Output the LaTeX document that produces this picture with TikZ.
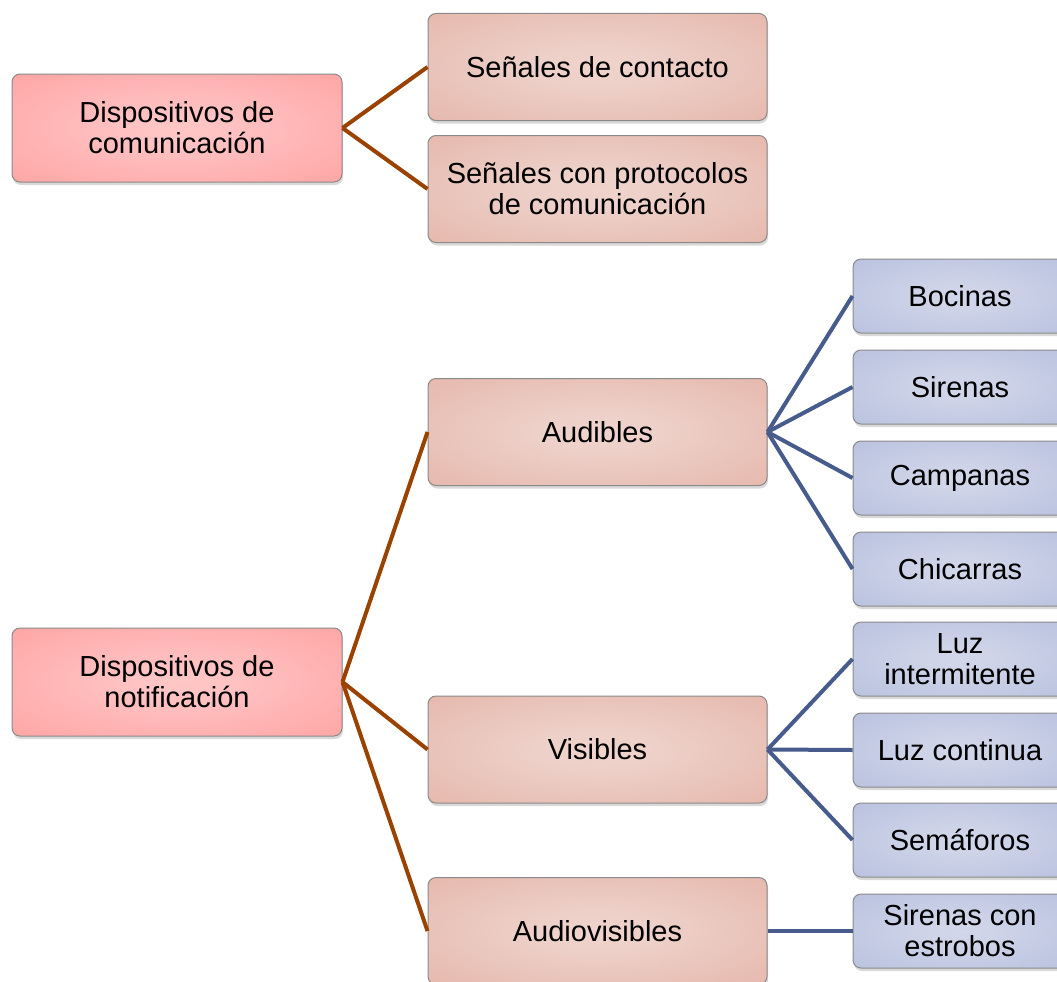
\documentclass[tikz,border=0pt]{standalone}
\usepackage{fontspec}
\setmainfont{Liberation Sans}
\usetikzlibrary{shadows}
\definecolor{brownline}{HTML}{9A4200}
\definecolor{blueline}{HTML}{475B8C}
\definecolor{boxborder}{HTML}{8A8A8A}
\pgfdeclareradialshading{rootshade}{\pgfpoint{0bp}{0bp}}{rgb(0bp)=(1,0.78,0.78); rgb(8bp)=(1,0.76,0.76); rgb(48bp)=(1,0.6,0.6); rgb(80bp)=(1,0.6,0.6)}
\pgfdeclareradialshading{midshade}{\pgfpoint{0bp}{0bp}}{rgb(0bp)=(0.94,0.83,0.80); rgb(8bp)=(0.93,0.82,0.79); rgb(48bp)=(0.89,0.68,0.63); rgb(80bp)=(0.89,0.68,0.63)}
\pgfdeclareradialshading{leafshade}{\pgfpoint{0bp}{0bp}}{rgb(0bp)=(0.82,0.84,0.92); rgb(8bp)=(0.81,0.83,0.91); rgb(48bp)=(0.69,0.73,0.86); rgb(80bp)=(0.69,0.73,0.86)}
\begin{document}
\begin{tikzpicture}[x=1pt,y=-1pt,
  box/.style={draw=boxborder, line width=1pt, rounded corners=8pt, align=center,
    inner sep=0pt, font=\fontsize{29}{31}\selectfont,
    drop shadow={shadow xshift=1pt, shadow yshift=-3pt, opacity=0.3}},
  root/.style={box, shading=rootshade, minimum width=330pt, minimum height=108pt},
  mid/.style={box, shading=midshade, minimum width=339pt, minimum height=107pt},
  leaf/.style={box, shading=leafshade, minimum width=214pt, minimum height=74pt},
  bl/.style={draw=brownline, line width=4pt},
  ul/.style={draw=blueline, line width=4pt}]
\useasboundingbox (0,0) rectangle (1057,982);

\node[root] (dc) at (177,128) {Dispositivos de\\comunicación};
\node[mid] (sc) at (597.5,67) {Señales de contacto};
\node[mid] (sp) at (597.5,189) {Señales con protocolos\\de comunicación};

\node[root] (dn) at (177,682) {Dispositivos de\\notificación};
\node[mid] (au) at (597.5,432) {Audibles};
\node[mid] (vi) at (597.5,749.5) {Visibles};
\node[mid] (av) at (597.5,931) {Audiovisibles};

\node[leaf] (bo) at (960,296) {Bocinas};
\node[leaf] (si) at (960,387) {Sirenas};
\node[leaf] (ca) at (960,478) {Campanas};
\node[leaf] (ch) at (960,569) {Chicarras};
\node[leaf] (li) at (960,659) {Luz\\intermitente};
\node[leaf] (lc) at (960,750) {Luz continua};
\node[leaf] (se) at (960,840) {Semáforos};
\node[leaf] (sx) at (960,931) {Sirenas con\\estrobos};

\draw[bl] (dc.east) -- (sc.west);
\draw[bl] (dc.east) -- (sp.west);
\draw[bl] (dn.east) -- (au.west);
\draw[bl] (dn.east) -- (vi.west);
\draw[bl] (dn.east) -- (av.west);

\foreach \t in {bo,si,ca,ch} \draw[ul] (au.east) -- (\t.west);
\foreach \t in {li,lc,se} \draw[ul] (vi.east) -- (\t.west);
\draw[ul] (av.east) -- (sx.west);
\end{tikzpicture}
\end{document}
